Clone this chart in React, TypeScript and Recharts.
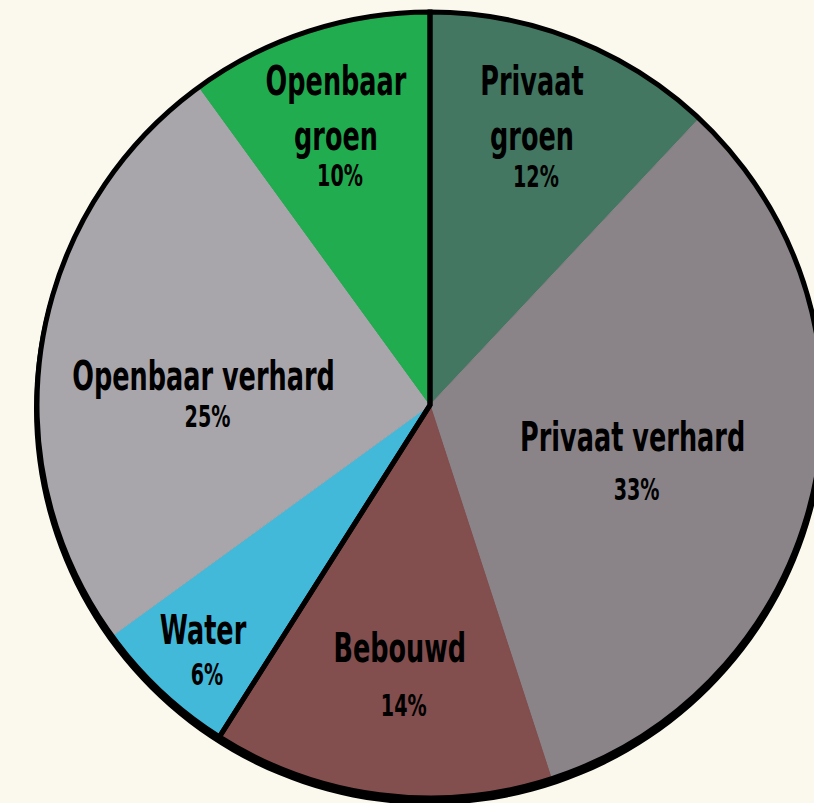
import { PieChart, Pie, Cell } from "recharts";

const categories = ["Privaat groen", "Privaat verhard", "Bebouwd", "Water", "Openbaar verhard", "Openbaar groen"];
const shares = [12, 33, 14, 6, 25, 10];
const colors = ["#437761", "#8a8489", "#834e4e", "#43b9d9", "#a8a6ab", "#22ac50"];

// label placement (fraction of radius, angle nudge, gap to the % line, wrap name on two lines)
const labelRadius = [0.755, 0.535, 0.69, 0.85, 0.577, 0.75];
const labelShift = [1.5, -2.9, 0.8, 0.4, 6.2, 0.6];
const pctGap = [37, 49, 54, 41, 37, 36];
const wrapName = [true, false, false, false, false, true];

const data = categories.map((name, i) => ({ name, value: shares[i] }));

// black outline groups: private + built vs. water + public
const outline = [
  { name: "a", value: shares.slice(0, 3).reduce((s, v) => s + v, 0) },
  { name: "b", value: shares.slice(3).reduce((s, v) => s + v, 0) },
];

const FONT = "'Liberation Sans Narrow', 'DejaVu Sans Condensed', 'Roboto', sans-serif";
const RAD = Math.PI / 180;
const CAP = 29;
const LINE = 55;
const SQUEEZE = 0.71;

const renderLabel = (props: any) => {
  const { cx, cy, midAngle, outerRadius, index } = props;
  const r = outerRadius * labelRadius[index];
  const a = (midAngle + labelShift[index]) * RAD;
  const x = cx + r * Math.cos(a);
  const y = cy - r * Math.sin(a);
  const lines = wrapName[index] ? categories[index].split(" ") : [categories[index]];
  const total = CAP + (lines.length - 1) * LINE + pctGap[index];
  const top = y - total / 2;
  return (
    <g>
      {lines.map((t, i) => (
        <text
          key={i}
          transform={`translate(${x},${top + CAP + i * LINE}) scale(${SQUEEZE},1)`}
          textAnchor="middle"
          fill="#000"
          style={{ fontFamily: FONT, fontWeight: 700, fontSize: 40 }}
        >
          {t}
        </text>
      ))}
      <text
        transform={`translate(${x + 4},${top + total}) scale(${SQUEEZE},1)`}
        textAnchor="middle"
        fill="#000"
        style={{ fontFamily: FONT, fontWeight: 700, fontSize: 30 }}
      >
        {shares[index]}%
      </text>
    </g>
  );
};

export default function App() {
  return (
    <div style={{ position: "fixed", left: 0, top: 0, width: 814, height: 803, background: "#fbf9ee" }}>
      <PieChart width={814} height={803} margin={{ top: 0, right: 0, bottom: 0, left: 0 }}>
        <Pie
          data={[{ name: "shadow", value: 1 }]}
          dataKey="value"
          cx={430}
          cy={409}
          outerRadius={396}
          startAngle={90}
          endAngle={-270}
          fill="#000"
          stroke="none"
          isAnimationActive={false}
        />
        <Pie
          data={data}
          dataKey="value"
          cx={430}
          cy={405}
          outerRadius={393}
          startAngle={90}
          endAngle={-270}
          label={renderLabel}
          labelLine={false}
          isAnimationActive={false}
        >
          {data.map((d, i) => (
            <Cell key={d.name} fill={colors[i]} stroke={colors[i]} strokeWidth={1} />
          ))}
        </Pie>
        <Pie
          data={outline}
          dataKey="value"
          cx={430}
          cy={405}
          outerRadius={393}
          startAngle={90}
          endAngle={-270}
          fill="none"
          stroke="#000"
          strokeWidth={5}
          isAnimationActive={false}
        />
      </PieChart>
    </div>
  );
}
